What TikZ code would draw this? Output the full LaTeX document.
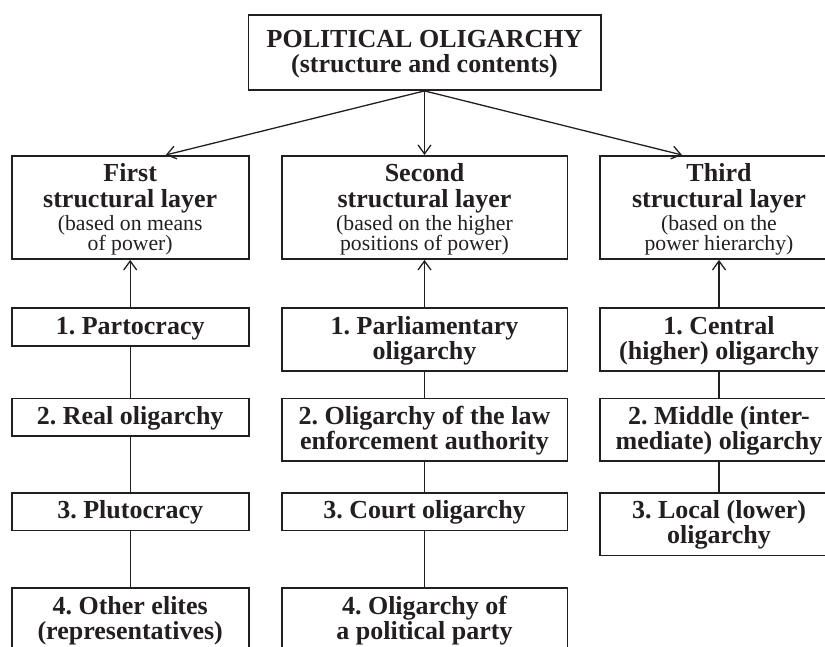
\documentclass[tikz,border=0pt]{standalone}
\usepackage{fontspec}
\setmainfont{Liberation Serif}
\usetikzlibrary{arrows.meta}
\definecolor{ink}{RGB}{35,31,32}
\newcommand\basis[1]{{\mdseries\fontsize{21.7}{21}\selectfont #1}}
\tikzset{
  box/.style={draw=ink, text=ink, line width=1.6pt, anchor=north, align=center,
    inner xsep=0pt, inner ysep=8.5pt, text height=17.5pt, text depth=3.2pt,
    font=\bfseries\fontsize{26}{25}\selectfont\frenchspacing},
  twolines/.style={text height=42.5pt},
  layerbox/.style={box, inner ysep=8.2pt, text height=86.8pt, text depth=0.1pt},
  titlebox/.style={box, inner ysep=15.2pt, text height=42.5pt, text depth=2.4pt, minimum width=352.4pt},
  colA/.style={minimum width=237pt},
  colB/.style={minimum width=285.6pt},
  colC/.style={minimum width=238pt},
  arr/.style={draw=ink, line width=1.3pt, -{Straight Barb[length=9pt,width=13pt]}},
  link/.style={draw=ink, line width=1.3pt}
}
\begin{document}
\begin{tikzpicture}[x=1pt,y=-1pt]
  \useasboundingbox (0,0) rectangle (825,646);
  \clip (0,0) rectangle (825,646);
  % Top box
  \node[titlebox] (pol) at (424.5,14) {POLITICAL OLIGARCHY\\(structure and contents)};
  % Structural layers
  \node[layerbox, colA] (lay1) at (130.2,155) {First\\[1pt]structural layer\\[-2.4pt]\basis{(based on means}\\[-4.3pt]\basis{of power)}};
  \node[layerbox, colB] (lay2) at (424.5,155) {Second\\[1pt]structural layer\\[-2.4pt]\basis{(based on the higher}\\[-4.3pt]\basis{positions of power)}};
  \node[layerbox, colC] (lay3) at (719,155) {Third\\[1pt]structural layer\\[-2.4pt]\basis{(based on the}\\[-4.3pt]\basis{power hierarchy)}};
  \draw[arr] (pol.south) -- ([xshift=35.5pt]lay1.north);
  \draw[arr] (pol.south) -- (lay2.north);
  \draw[arr] (pol.south) -- ([xshift=-37pt]lay3.north);
  % First layer
  \node[box, colA] (a1) at (130.2,307.3) {1. Partocracy};
  \node[box, colA] (a2) at (130.2,397.7) {2. Real oligarchy};
  \node[box, colA] (a3) at (130.2,492) {3. Plutocracy};
  \node[box, colA, twolines] (a4) at (130.2,587.3) {4. Other elites\\(representatives)};
  % Second layer
  \node[box, colB, twolines] (b1) at (424.5,307.3) {1. Parliamentary\\oligarchy};
  \node[box, colB, twolines] (b2) at (424.5,397.7) {2. Oligarchy of the law\\enforcement authority};
  \node[box, colB] (b3) at (424.5,492) {3. Court oligarchy};
  \node[box, colB, twolines] (b4) at (424.5,587.3) {4. Oligarchy of\\a political party};
  % Third layer
  \node[box, colC, twolines] (c1) at (719,307.3) {1. Central\\(higher) oligarchy};
  \node[box, colC, twolines] (c2) at (719,397.7) {2. Middle (inter-\\mediate) oligarchy};
  \node[box, colC, twolines] (c3) at (719,492) {3. Local (lower)\\oligarchy};
  % Connectors
  \draw[arr] (a1.north) -- (lay1.south);
  \draw[link] (a1.south) -- (a2.north);
  \draw[link] (a2.south) -- (a3.north);
  \draw[link] (a3.south) -- (a4.north);
  \draw[arr] (b1.north) -- (lay2.south);
  \draw[link] (b1.south) -- (b2.north);
  \draw[link] (b2.south) -- (b3.north);
  \draw[link] (b3.south) -- (b4.north);
  \draw[arr] (c1.north) -- (lay3.south);
  \draw[link] (c1.south) -- (c2.north);
  \draw[link] (c2.south) -- (c3.north);
\end{tikzpicture}
\end{document}
